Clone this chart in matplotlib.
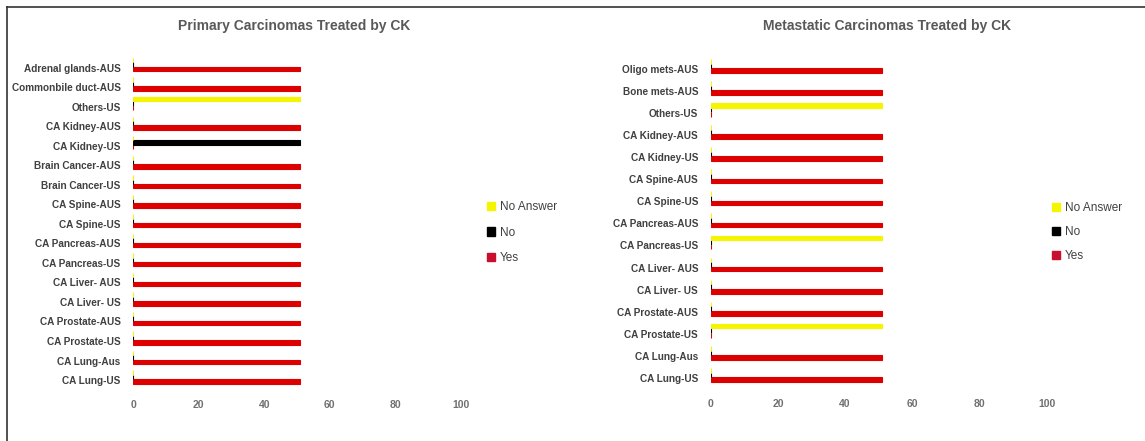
import matplotlib
matplotlib.use("Agg")
import matplotlib.pyplot as plt
from matplotlib.patches import Patch
from matplotlib.lines import Line2D
import numpy as np

plt.rcParams['font.family'] = ['Liberation Sans', 'DejaVu Sans']

# ---- data (listed top to bottom as shown) ----
primary_categories = ["Adrenal glands-AUS", "Commonbile duct-AUS", "Others-US", "CA Kidney-AUS",
                      "CA Kidney-US", "Brain Cancer-AUS", "Brain Cancer-US", "CA Spine-AUS",
                      "CA Spine-US", "CA Pancreas-AUS", "CA Pancreas-US", "CA Liver- AUS",
                      "CA Liver- US", "CA Prostate-AUS", "CA Prostate-US", "CA Lung-Aus", "CA Lung-US"]
primary_yes       = [51, 51, 0, 51, 0, 51, 51, 51, 51, 51, 51, 51, 51, 51, 51, 51, 51]
primary_no        = [0, 0, 0, 0, 51, 0, 0, 0, 0, 0, 0, 0, 0, 0, 0, 0, 0]
primary_no_answer = [0, 0, 51, 0, 0, 0, 0, 0, 0, 0, 0, 0, 0, 0, 0, 0, 0]

meta_categories = ["Oligo mets-AUS", "Bone mets-AUS", "Others-US", "CA Kidney-AUS", "CA Kidney-US",
                   "CA Spine-AUS", "CA Spine-US", "CA Pancreas-AUS", "CA Pancreas-US",
                   "CA Liver- AUS", "CA Liver- US", "CA Prostate-AUS", "CA Prostate-US",
                   "CA Lung-Aus", "CA Lung-US"]
meta_yes       = [51, 51, 0, 51, 51, 51, 51, 51, 0, 51, 51, 51, 0, 51, 51]
meta_no        = [0, 0, 0, 0, 0, 0, 0, 0, 0, 0, 0, 0, 0, 0, 0]
meta_no_answer = [0, 0, 51, 0, 0, 0, 0, 0, 51, 0, 0, 0, 51, 0, 0]

titles = ["Primary Carcinomas Treated by CK", "Metastatic Carcinomas Treated by CK"]
series_labels = ["Yes", "No", "No Answer"]
x_ticks = [0, 20, 40, 60, 80, 100]

RED = '#DD0000'
BLACK = '#000000'
YELLOW = '#F5F500'
LABEL_COL = '#404040'
TITLE_COL = '#595959'

fig = plt.figure(figsize=(11.45, 4.41), dpi=100)

def draw(ax, cats, yes, no, na, bh, shift, title, title_x, leg_anchor, leg_spacing):
    n = len(cats)
    y = np.arange(n)[::-1] + shift
    for vals, off, col in ((yes, -bh, RED), (no, 0.0, BLACK), (na, bh, YELLOW)):
        ax.barh(y + off, vals, height=bh, color=col, edgecolor=col, linewidth=0.8)
    ax.set_xlim(0, 100)
    ax.set_ylim(-0.5, n - 0.5)
    ax.set_yticks(np.arange(n)[::-1])
    ax.set_yticklabels(cats, fontsize=7.2, fontweight='bold', color=LABEL_COL)
    ax.set_xticks(x_ticks)
    ax.set_xticklabels([str(t) for t in x_ticks], fontsize=7.5, fontweight='bold', color='#707070')
    ax.tick_params(axis='y', length=0, pad=9)
    ax.tick_params(axis='x', length=0, pad=7)
    for s in ax.spines.values():
        s.set_visible(False)
    fig.text(title_x, 0.94, title, ha='center', va='center', fontsize=10,
             fontweight='bold', color=TITLE_COL)
    handles = [Patch(color=YELLOW), Patch(color=BLACK), Patch(color='#C8102E')]
    leg = fig.legend(handles, ["No Answer", "No", "Yes"], loc='upper left',
                     bbox_to_anchor=leg_anchor, frameon=False, fontsize=8.5,
                     handlelength=0.7, handleheight=0.7, handletextpad=0.4,
                     labelspacing=leg_spacing, borderaxespad=0)
    for t in leg.get_texts():
        t.set_color(LABEL_COL)

ax1 = fig.add_axes([0.1162, 0.116, 0.2865, 0.753])
draw(ax1, primary_categories, primary_yes, primary_no, primary_no_answer, 0.225, 0.155,
     titles[0], 0.257, (0.421, 0.555), 1.15)

ax2 = fig.add_axes([0.6207, 0.118, 0.2934, 0.751])
draw(ax2, meta_categories, meta_yes, meta_no, meta_no_answer, 0.21, 0.135,
     titles[1], 0.775, (0.9145, 0.552), 1.0)

# outer frame (top and left edges)
fig.add_artist(Line2D([7/1145, 1.0], [1 - 7/441, 1 - 7/441], transform=fig.transFigure,
                      color='#333333', linewidth=1.2))
fig.add_artist(Line2D([7/1145, 7/1145], [0, 1 - 7/441], transform=fig.transFigure,
                      color='#333333', linewidth=1.2))

fig.savefig("out.png", dpi=100, facecolor='white')
